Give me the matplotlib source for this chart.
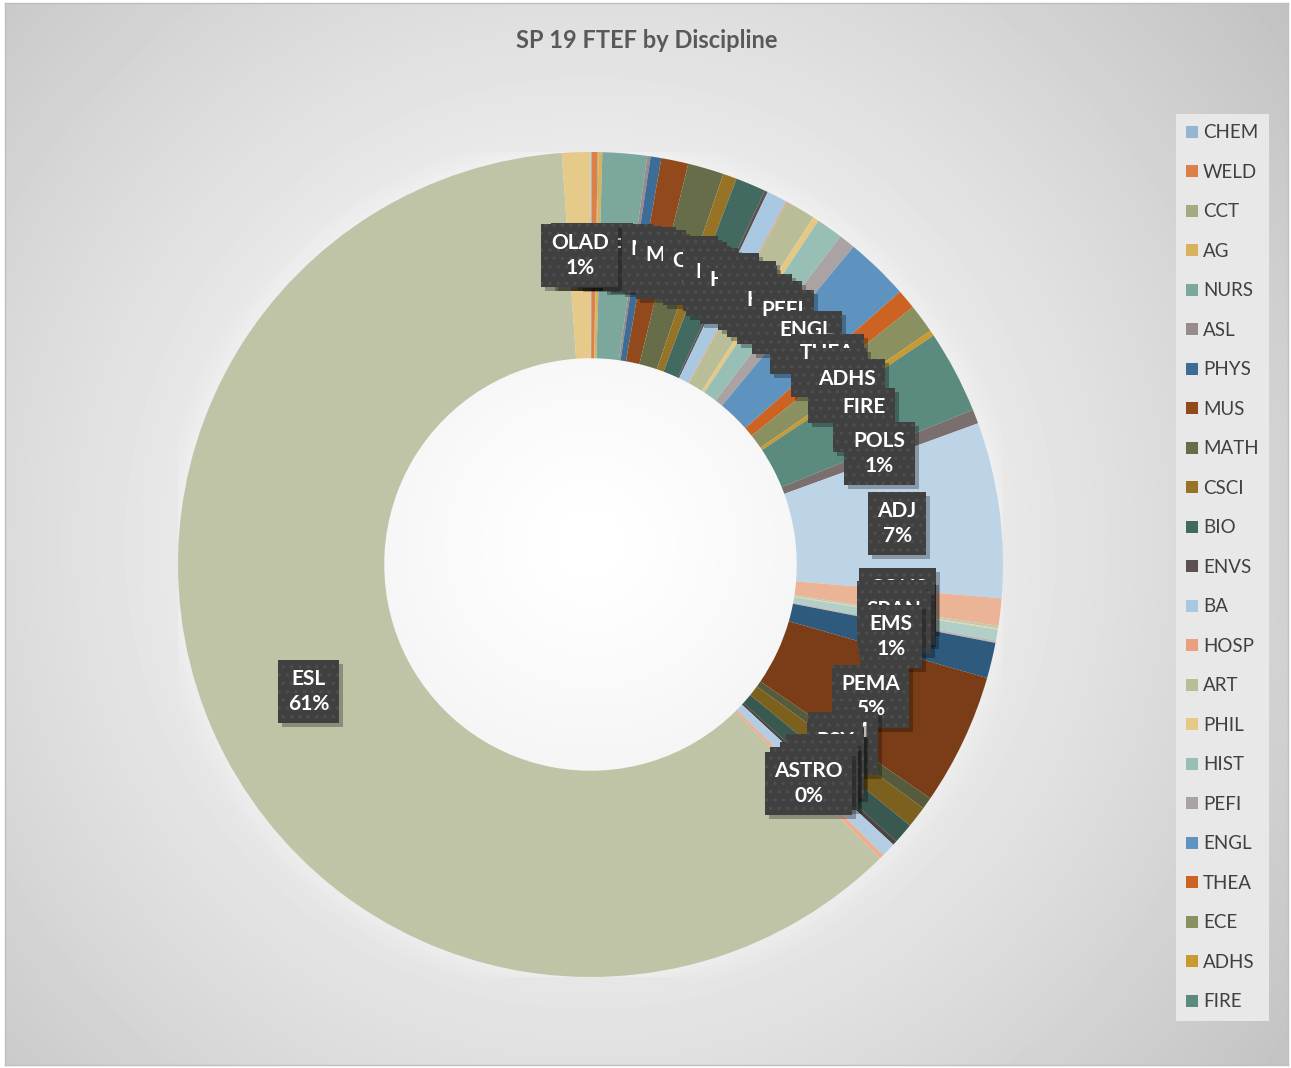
import numpy as np
import matplotlib
matplotlib.use('Agg')
import matplotlib.pyplot as plt
import matplotlib.patches as mpatches
import matplotlib.transforms as mtransforms

plt.rcParams['font.family'] = ['Lato', 'DejaVu Sans']
plt.rcParams['hatch.linewidth'] = 1.2

# --- DADOS (parcela de FTEF por disciplina, estimada do gráfico) ---
disciplines = ['CHEM', 'WELD', 'CCT', 'AG', 'NURS', 'ASL', 'PHYS', 'MUS', 'MATH', 'CSCI',
               'BIO', 'ENVS', 'BA', 'HOSP', 'ART', 'PHIL', 'HIST', 'PEFI', 'ENGL', 'THEA',
               'ECE', 'ADHS', 'FIRE', 'POLS', 'ADJ', 'CONS', 'GUID', 'GEOG', 'SOC', 'SPAN',
               'EMS', 'PEMA', 'HUM', 'PSY', 'ANTH', 'ECON', 'COMM', 'ASTRO', 'ESL', 'OLAD']
ftef_share = [0.05, 0.23, 0.03, 0.15, 1.74, 0.13, 0.42, 1.06, 1.41, 0.54,
              1.19, 0.12, 0.80, 0.05, 1.16, 0.24, 1.05, 0.64, 2.50, 0.77,
              1.14, 0.22, 3.25, 0.56, 6.87, 1.07, 0.10, 0.05, 0.42, 0.10,
              1.39, 5.16, 0.47, 0.84, 0.81, 0.17, 0.56, 0.18, 61.30, 1.11]
legend_count = 23

slice_colors = ['#94B6D2', '#DD8047', '#A5AB81', '#D8B25C', '#7BA79D', '#968C8C',
                '#3D6D97', '#924A1C', '#666D48', '#977425', '#436A60', '#5C5050',
                '#A9C8E2', '#E8A080', '#B9BE99', '#E5C883', '#98BFB5', '#ABA3A3',
                '#5E93C0', '#CC6322', '#8A9060', '#C99A2F', '#5B8A7E', '#7A6E6E',
                '#BDD3E6', '#EBB497', '#C5C9AE', '#EBD49F', '#B0CFC7', '#C0B9B9',
                '#2E5A7E', '#7A3D17', '#555B3B', '#7C611E', '#385850', '#4B4242',
                '#B3CDE3', '#EFAE8E', '#C0C4A6', '#E5CA8A']

W, H = 1291, 1068
fig = plt.figure(figsize=(W / 100, H / 100), dpi=100)
fig.patch.set_facecolor('white')

# --- fundo com gradiente radial ---
bg = fig.add_axes([5 / W, 3 / H, 1283 / W, 1062 / H])
ny, nx = 1062, 1283
yy, xx = np.mgrid[0:ny, 0:nx]
d = np.hypot(xx - 585, yy - 540) / 820
val = 1 - 0.22 * np.clip(d, 0, 1.3) ** 1.3
bg.imshow(val, cmap='gray', vmin=0, vmax=1, aspect='auto', extent=[0, nx, ny, 0])
bg.set_xticks([])
bg.set_yticks([])
for s in bg.spines.values():
    s.set_color('#BFBFBF')
    s.set_linewidth(1)

# --- rosca ---
ax = fig.add_axes([178 / W, (H - 977) / H, 825 / W, 825 / H])
for r in np.linspace(1.05, 1.0, 6):
    ax.add_patch(mpatches.Circle((0, 0), r, facecolor='white', edgecolor='none', alpha=0.07, zorder=0))
wedges, _ = ax.pie(ftef_share, colors=slice_colors, startangle=90, counterclock=False,
                   radius=1, wedgeprops=dict(width=0.5, linewidth=0))

total = sum(ftef_share)
for w, name, v in zip(wedges, disciplines, ftef_share):
    ang = np.deg2rad((w.theta1 + w.theta2) / 2)
    x, y = 0.75 * np.cos(ang), 0.75 * np.sin(ang)
    txt = f'{name}\n{v / total * 100:.0f}%'
    sh = mtransforms.offset_copy(ax.transData, fig=fig, x=4, y=-4, units='dots')
    ax.text(x, y, txt, transform=sh, color='none', ha='center', va='center',
            fontsize=15, fontweight='bold', linespacing=1.3, zorder=5,
            bbox=dict(boxstyle='square,pad=0.45', facecolor='black', edgecolor='none', alpha=0.28))
    ax.text(x, y, txt, color='white', ha='center', va='center',
            fontsize=15, fontweight='bold', linespacing=1.3, zorder=5,
            bbox=dict(boxstyle='square,pad=0.45', facecolor='#404040', edgecolor='#4E4E4E',
                      linewidth=0, hatch='..'))

ax.set_xlim(-1, 1)
ax.set_ylim(-1, 1)
ax.set_aspect('equal')
ax.axis('off')

# --- título e legenda ---
fig.text(647 / W, 1 - 40 / H, 'SP 19 FTEF by Discipline', ha='center', va='center',
         fontsize=17, fontweight='bold', color='#595959')

handles = [mpatches.Patch(facecolor=c, edgecolor='none') for c in slice_colors[:legend_count]]
leg = fig.legend(handles, disciplines[:legend_count], loc='upper left',
                 bbox_to_anchor=(1176 / W, 1 - 114 / H), borderaxespad=0, frameon=True,
                 fancybox=False, fontsize=13.5, labelspacing=1.2, handlelength=0.6,
                 handleheight=0.6, handletextpad=0.3, borderpad=0.55, labelcolor='#404040',
                 framealpha=1)
leg.get_frame().set_facecolor('#E8E8E8')
leg.get_frame().set_edgecolor('none')

fig.savefig('out.png', dpi=100)
